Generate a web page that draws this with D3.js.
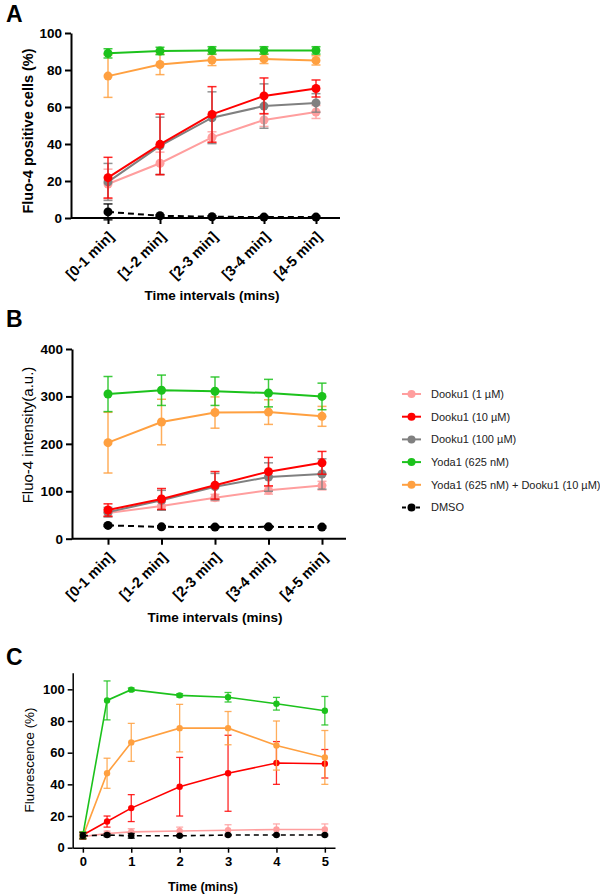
<!DOCTYPE html>
<html><head><meta charset="utf-8">
<script src="https://cdn.jsdelivr.net/npm/d3@7"></script>
<style>
html,body{margin:0;padding:0;background:#fff;}
text{font-family:"Liberation Sans",Arial,sans-serif;}
</style></head>
<body>
<svg id="chart" width="600" height="895"></svg>
<script>
// ---------- DATA ----------
const categories = ["[0-1 min]", "[1-2 min]", "[2-3 min]", "[3-4 min]", "[4-5 min]"];
const timesC = [0, 0.5, 1, 2, 3, 4, 5];
const seriesNames = ["Dooku1 (1 µM)", "Dooku1 (10 µM)", "Dooku1 (100 µM)", "Yoda1 (625 nM)", "Yoda1 (625 nM) + Dooku1 (10 µM)", "DMSO"];
const seriesColors = ["#ff9e9e", "#ff0000", "#808080", "#1cc21c", "#ffa040", "#000000"];

// Panel A: Fluo-4 positive cells (%)
const aPink = [18.4, 29.6, 43.6, 53, 57.3];      const aPinkErr = [8, 6, 3, 3.5, 3.5];
const aRed = [21.8, 39.8, 56, 66, 70];           const aRedErr = [11, 16.4, 15, 9.7, 4.6];
const aGray = [19.5, 39, 54.2, 60.5, 62.2];      const aGrayErr = [10, 15.5, 14, 12, 5];
const aGreen = [89, 90.3, 90.6, 90.6, 90.6];     const aGreenErr = [2.5, 2, 2, 2, 2];
const aOrange = [76.7, 83, 85.4, 86, 85.2];      const aOrangeErr = [11.5, 5.5, 3, 2.5, 2.5];
const aDmso = [3.3, 1.2, 0.7, 0.5, 0.5];         const aDmsoErr = [4.3, 0.5, 0.5, 0.5, 0.5];
const aTicks = [0, 20, 40, 60, 80, 100];

// Panel B: Fluo-4 intensity (a.u.)
const bPink = [54, 69, 86.5, 102, 112];          const bPinkErr = [8, 8, 7, 8, 9];
const bRed = [60.5, 83.8, 112.6, 141.4, 160];    const bRedErr = [13, 22, 29, 30, 24];
const bGray = [56, 81, 109.7, 130, 136.5];       const bGrayErr = [10, 21, 28, 30, 32];
const bGreen = [305, 313, 311, 307, 300];        const bGreenErr = [37, 32, 30, 29, 28];
const bOrange = [202.5, 246, 266, 267, 258];     const bOrangeErr = [64, 48, 33, 26, 21];
const bDmso = [28, 25, 24.5, 25, 24.5];          const bDmsoErr = [2, 2, 2, 2, 2];
const bTicks = [0, 100, 200, 300, 400];

// Panel C: Fluorescence (%) over time
const cPink = [7, 9, 10, 10.5, 11, 11.5, 11.5];       const cPinkErr = [1.5, 1.5, 2, 2.5, 3.5, 3.5, 3.5];
const cRed = [8, 16.5, 25, 38.5, 47, 53.5, 53];       const cRedErr = [2, 3.5, 8.5, 18.5, 24, 13.5, 9];
const cGreen = [8, 93, 99.8, 96.2, 95, 90.9, 86.5];   const cGreenErr = [2, 12.3, 1, 1, 3, 4, 9];
const cOrange = [7, 47, 66.5, 75.5, 75.5, 64.5, 57];  const cOrangeErr = [1.5, 9.5, 12, 15, 10.5, 15.5, 17];
const cDmso = [7.5, 8, 7.5, 7.5, 8, 8, 8];            const cDmsoErr = [2, 1, 1.5, 0.5, 0.5, 0.5, 0.5];
const cYTicks = [0, 20, 40, 60, 80, 100];
const cXTicks = [0, 1, 2, 3, 4, 5];

// ---------- DRAW ----------
const svg = d3.select("#chart");

function build(vals, errs, xs) {
  return vals.map((v, i) => ({x: xs[i], y: v, e: errs[i]}));
}

function drawSeries(g, x, y, data, color, opts) {
  const line = d3.line().x(d => x(d.x)).y(d => y(d.y));
  const eg = g.append("g");
  data.forEach(d => {
    const cx = x(d.x);
    eg.append("line").attr("x1", cx).attr("x2", cx).attr("y1", y(d.y - d.e)).attr("y2", y(d.y + d.e))
      .attr("stroke", color).attr("stroke-width", opts.ew).attr("stroke-opacity", opts.eo);
    [d.y - d.e, d.y + d.e].forEach(v => {
      eg.append("line").attr("x1", cx - opts.cap).attr("x2", cx + opts.cap).attr("y1", y(v)).attr("y2", y(v))
        .attr("stroke", color).attr("stroke-width", opts.ew).attr("stroke-opacity", opts.eo);
    });
  });
  g.append("path").datum(data).attr("d", line).attr("fill", "none").attr("stroke", color)
    .attr("stroke-width", opts.lw).attr("stroke-dasharray", opts.dash || null);
  g.append("g").selectAll("circle").data(data).join("circle")
    .attr("cx", d => x(d.x)).attr("cy", d => y(d.y)).attr("r", opts.r).attr("fill", color);
}

function styleAxis(g, w) {
  g.selectAll(".domain").attr("stroke", "#000").attr("stroke-width", w);
  g.selectAll(".tick line").attr("stroke", "#000").attr("stroke-width", w);
}

function panelAB(cfg) {
  const x = d3.scalePoint().domain(categories).range([cfg.x0, cfg.x1]);
  const y = d3.scaleLinear().domain(cfg.ydom).range([cfg.yb, cfg.yt]);
  // axes
  const gy = svg.append("g").attr("transform", `translate(${cfg.axL},0)`)
    .call(d3.axisLeft(y).tickValues(cfg.ticks).tickSize(6).tickPadding(3).tickSizeOuter(0));
  styleAxis(gy, 2);
  gy.selectAll("text").attr("font-size", 13.5).attr("font-weight", "bold").attr("fill", "#000");
  const gx = svg.append("g").attr("transform", `translate(0,${cfg.yb})`)
    .call(d3.axisBottom(x).tickSize(6).tickSizeOuter(0).tickFormat(() => ""));
  gx.select(".domain").attr("d", `M${cfg.axL},0H${cfg.axR}`);
  styleAxis(gx, 2);
  categories.forEach(c => {
    svg.append("text").attr("transform", `translate(${x(c) + 3},${cfg.yb + 16}) rotate(-45)`)
      .attr("text-anchor", "end").attr("dy", "0.35em").attr("font-size", 14.5).attr("font-weight", "bold")
      .text(c);
  });
  svg.append("text").attr("x", cfg.xtx).attr("y", cfg.xty).attr("text-anchor", "middle")
    .attr("font-size", 13.5).attr("font-weight", "bold").text("Time intervals (mins)");
  svg.append("text").attr("transform", `translate(${cfg.ytx},${cfg.yty}) rotate(-90)`).attr("text-anchor", "middle")
    .attr("font-size", cfg.ytSize).attr("font-weight", cfg.ytWeight).text(cfg.ytitle);
  svg.append("text").attr("x", 6).attr("y", cfg.lblY).attr("font-size", 23).attr("font-weight", "bold").text(cfg.label);
  const g = svg.append("g");
  const opts = {lw: 2, r: 4.5, ew: 1.5, eo: 0.85, cap: 4.5};
  const order = [0, 2, 1, 4, 3, 5];
  order.forEach(i => {
    drawSeries(g, x, y, build(cfg.vals[i], cfg.errs[i], categories), seriesColors[i],
      Object.assign({}, opts, i === 5 ? {dash: "6,4"} : {}));
  });
}

panelAB({x0: 108, x1: 316, axL: 71, axR: 340, yb: 218, yt: 33, ydom: [0, 100], ticks: aTicks,
  xtx: 212, xty: 300, ytx: 33, yty: 131, ytSize: 14.5, ytWeight: "bold", ytitle: "Fluo-4 positive cells (%)",
  label: "A", lblY: 22,
  vals: [aPink, aRed, aGray, aGreen, aOrange, aDmso], errs: [aPinkErr, aRedErr, aGrayErr, aGreenErr, aOrangeErr, aDmsoErr]});

panelAB({x0: 108, x1: 322, axL: 72, axR: 346, yb: 538.7, yt: 349, ydom: [0, 400], ticks: bTicks,
  xtx: 215, xty: 622, ytx: 33, yty: 435, ytSize: 15, ytWeight: "normal", ytitle: "Fluo-4 intensity(a.u.)",
  label: "B", lblY: 327,
  vals: [bPink, bRed, bGray, bGreen, bOrange, bDmso], errs: [bPinkErr, bRedErr, bGrayErr, bGreenErr, bOrangeErr, bDmsoErr]});

// Panel C
(function () {
  const x = d3.scaleLinear().domain([-0.21, 5.21]).range([72.7, 335]);
  const y = d3.scaleLinear().domain([0, 110.5]).range([847.7, 672.7]);
  const gy = svg.append("g").attr("transform", "translate(72.7,0)")
    .call(d3.axisLeft(y).tickValues(cYTicks).tickSize(5).tickPadding(3).tickSizeOuter(0));
  styleAxis(gy, 1.5);
  gy.selectAll("text").attr("font-size", 13).attr("font-weight", "bold").attr("fill", "#000");
  const gx = svg.append("g").attr("transform", "translate(0,847.7)")
    .call(d3.axisBottom(x).tickValues(cXTicks).tickSize(5).tickPadding(4).tickSizeOuter(0).tickFormat(d3.format("d")));
  styleAxis(gx, 1.5);
  gx.selectAll("text").attr("font-size", 13).attr("font-weight", "bold").attr("fill", "#000");
  svg.append("text").attr("x", 203).attr("y", 891).attr("text-anchor", "middle")
    .attr("font-size", 12.5).attr("font-weight", "bold").text("Time (mins)");
  svg.append("text").attr("transform", "translate(34,760) rotate(-90)").attr("text-anchor", "middle")
    .attr("font-size", 13.4).text("Fluorescence (%)");
  svg.append("text").attr("x", 6).attr("y", 665).attr("font-size", 23).attr("font-weight", "bold").text("C");
  const g = svg.append("g");
  const opts = {lw: 1.6, r: 3.2, ew: 1.3, eo: 0.85, cap: 3.5};
  const vals = [cPink, cRed, null, cGreen, cOrange, cDmso];
  const errs = [cPinkErr, cRedErr, null, cGreenErr, cOrangeErr, cDmsoErr];
  [0, 1, 4, 3, 5].forEach(i => {
    drawSeries(g, x, y, build(vals[i], errs[i], timesC), seriesColors[i],
      Object.assign({}, opts, i === 5 ? {dash: "5,4"} : {}));
  });
})();

// Legend
const lg = svg.append("g");
seriesNames.forEach((n, i) => {
  const yy = 394 + i * 22.7;
  lg.append("line").attr("x1", 402).attr("x2", 421).attr("y1", yy).attr("y2", yy)
    .attr("stroke", seriesColors[i]).attr("stroke-width", 2).attr("stroke-dasharray", i === 5 ? "4,3" : null);
  lg.append("circle").attr("cx", 411.5).attr("cy", yy).attr("r", 4).attr("fill", seriesColors[i]);
  lg.append("text").attr("x", 431).attr("y", yy).attr("dy", "0.35em").attr("font-size", 11).attr("fill", "#222").text(n);
});
</script>
</body></html>
